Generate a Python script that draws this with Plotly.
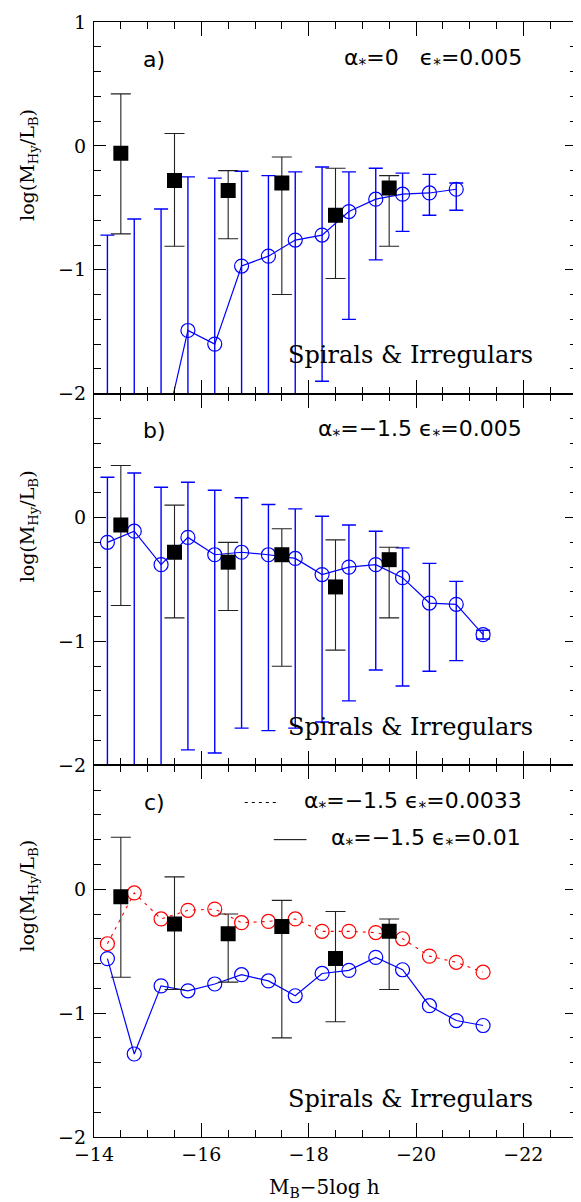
import plotly.graph_objects as go
from plotly.subplots import make_subplots

# ---------------- data ----------------
x_obs = [-14.5, -15.5, -16.5, -17.5, -18.5, -19.5]
y_obs = [-0.06, -0.28, -0.36, -0.30, -0.56, -0.34]
obs_hi = [0.42, 0.10, -0.20, -0.09, -0.18, -0.24]
obs_lo = [-0.71, -0.81, -0.75, -1.20, -1.07, -0.81]

x_mod = [-14.25, -14.75, -15.25, -15.75, -16.25, -16.75, -17.25, -17.75,
         -18.25, -18.75, -19.25, -19.75, -20.25, -20.75, -21.25]

# panel a (alpha=0, eps=0.005)
x_a = x_mod[:14]
y_a = [-2.7, -2.6, -2.44, -1.49, -1.60, -0.97, -0.89, -0.76, -0.72, -0.53, -0.43, -0.39, -0.38, -0.35]
a_hi = [-0.72, -0.59, -0.51, -0.25, -0.26, -0.205, -0.24, -0.21, -0.17, -0.21, -0.18, -0.22, -0.23, -0.30]
a_lo = [-3.5, -3.5, -3.5, -3.0, -3.0, -2.5, -2.5, -2.5, -1.90, -1.40, -0.92, -0.69, -0.56, -0.52]

# panel b (alpha=-1.5, eps=0.005)
y_b = [-0.20, -0.11, -0.38, -0.16, -0.30, -0.28, -0.30, -0.33, -0.46, -0.40, -0.38, -0.485, -0.69, -0.70, -0.945]
b_hi = [0.325, 0.36, 0.245, 0.285, 0.22, 0.16, 0.105, 0.07, 0.01, -0.06, -0.11, -0.245, -0.37, -0.515, -0.91]
b_lo = [-2.5, -2.5, -2.5, -1.875, -1.90, -1.70, -1.72, -1.70, -1.65, -1.48, -1.23, -1.36, -1.24, -1.155, -0.98]

# panel c
y_c_red = [-0.44, -0.03, -0.24, -0.17, -0.16, -0.27, -0.26, -0.24, -0.34, -0.34, -0.35, -0.40, -0.54, -0.59, -0.67]
y_c_blue = [-0.56, -1.33, -0.78, -0.82, -0.765, -0.69, -0.74, -0.86, -0.68, -0.655, -0.55, -0.65, -0.94, -1.06, -1.10]

y_ticks = [-2, -1, 0, 1]
x_ticks = [-14, -16, -18, -20, -22]

BLUE = "#0000ff"
RED = "#ff0000"


def errs(y, hi, lo):
    return [h - v for v, h in zip(y, hi)], [v - l for v, l in zip(y, lo)]


fig = make_subplots(rows=3, cols=1, shared_xaxes=True, vertical_spacing=0)

obs_up, obs_dn = errs(y_obs, obs_hi, obs_lo)


def add_obs(row):
    fig.add_trace(go.Scatter(
        x=x_obs, y=y_obs, mode="markers",
        marker=dict(symbol="square", size=15, color="black"),
        error_y=dict(type="data", symmetric=False, array=obs_up, arrayminus=obs_dn,
                     color="#222222", thickness=1.1, width=10),
        showlegend=False), row=row, col=1)


# panel a
up, dn = errs(y_a, a_hi, a_lo)
fig.add_trace(go.Scatter(
    x=x_a, y=y_a, mode="lines+markers",
    line=dict(color=BLUE, width=1.2),
    marker=dict(symbol="circle-open", size=14, color=BLUE, line=dict(width=1.2)),
    error_y=dict(type="data", symmetric=False, array=up, arrayminus=dn,
                 color=BLUE, thickness=1.4, width=7),
    showlegend=False), row=1, col=1)
add_obs(1)

# panel b
up, dn = errs(y_b, b_hi, b_lo)
fig.add_trace(go.Scatter(
    x=x_mod, y=y_b, mode="lines+markers",
    line=dict(color=BLUE, width=1.2),
    marker=dict(symbol="circle-open", size=14, color=BLUE, line=dict(width=1.2)),
    error_y=dict(type="data", symmetric=False, array=up, arrayminus=dn,
                 color=BLUE, thickness=1.4, width=7),
    showlegend=False), row=2, col=1)
add_obs(2)

# panel c
fig.add_trace(go.Scatter(
    x=x_mod, y=y_c_red, mode="lines+markers",
    line=dict(color=RED, width=1.1, dash="3px,5px"),
    marker=dict(symbol="circle-open", size=14, color=RED, line=dict(width=1.2)),
    showlegend=False), row=3, col=1)
fig.add_trace(go.Scatter(
    x=x_mod, y=y_c_blue, mode="lines+markers",
    line=dict(color=BLUE, width=1.2),
    marker=dict(symbol="circle-open", size=14, color=BLUE, line=dict(width=1.2)),
    showlegend=False), row=3, col=1)
add_obs(3)

tickfont = dict(family="DejaVu Serif", size=19, color="black")

for r in (1, 2, 3):
    fig.update_xaxes(
        range=[-14, -23], tickvals=x_ticks, ticks="inside", ticklen=14, tickwidth=1.2,
        tickcolor="black", showline=True, linecolor="black", linewidth=1.2,
        mirror="ticks", showgrid=False, zeroline=False, tickfont=tickfont,
        minor=dict(dtick=0.5, tick0=-14, ticks="inside", ticklen=7, tickwidth=1.1,
                   tickcolor="black", showgrid=False),
        row=r, col=1)
    ttext = ["\u22122", "\u22121", "0", "1"] if r == 1 else ["\u22122", "\u22121", "0", " "]
    fig.update_yaxes(
        range=[-2, 1], tickvals=y_ticks, ticktext=ttext, ticks="inside", ticklen=12,
        tickwidth=1.2, tickcolor="black", showline=True, linecolor="black", linewidth=1.2,
        mirror="ticks", showgrid=False, zeroline=False, tickfont=tickfont,
        ticklabelstandoff=3,
        minor=dict(dtick=0.2, tick0=0, ticks="inside", ticklen=7, tickwidth=1.1,
                   tickcolor="black", showgrid=False),
        row=r, col=1)

fig.update_xaxes(showticklabels=True, row=3, col=1)

sans = dict(family="DejaVu Sans", size=22, color="black")
serif = dict(family="DejaVu Serif", size=24, color="black")

ann = []
axes = [("x", "y"), ("x2", "y2"), ("x3", "y3")]
labels = ["a)", "b)", "c)"]
params = ["\u03b1<sub>*</sub>=0   \u03f5<sub>*</sub>=0.005",
          "\u03b1<sub>*</sub>=\u22121.5 \u03f5<sub>*</sub>=0.005",
          "\u03b1<sub>*</sub>=\u22121.5 \u03f5<sub>*</sub>=0.0033"]
for i, (xr, yr) in enumerate(axes):
    ann.append(dict(x=-15.12, y=0.70, xref=xr, yref=yr, text=labels[i], showarrow=False,
                    font=sans, xanchor="center", yanchor="middle"))
    ann.append(dict(x=-22.02, y=0.70, xref=xr, yref=yr, text=params[i], showarrow=False,
                    font=sans, xanchor="right", yanchor="middle"))
    ann.append(dict(x=-19.9, y=-1.69, xref=xr, yref=yr, text="Spirals &amp; Irregulars",
                    showarrow=False, font=serif, xanchor="center", yanchor="middle"))
ann.append(dict(x=-22.0, y=0.40, xref="x3", yref="y3",
                text="\u03b1<sub>*</sub>=\u22121.5 \u03f5<sub>*</sub>=0.01", showarrow=False,
                font=sans, xanchor="right", yanchor="middle"))

# y titles
ytitle = "log(M<sub>Hy</sub>/L<sub>B</sub>)"
for yc in (155, 520, 893):
    ann.append(dict(x=-0.136, y=1 - (yc - 11) / 1126, xref="paper", yref="paper",
                    text=ytitle, textangle=-90, showarrow=False,
                    font=dict(family="DejaVu Serif", size=19, color="black"),
                    xanchor="center", yanchor="middle"))
ann.append(dict(x=(325 - 94) / 484, y=-(1189 - 1137) / 1126, xref="paper", yref="paper",
                text="M<sub>B</sub>\u22125log h", showarrow=False,
                font=dict(family="DejaVu Serif", size=20, color="black"),
                xanchor="center", yanchor="middle"))

shapes = [
    dict(type="line", xref="x3", yref="y3", x0=-16.81, x1=-17.42, y0=0.70, y1=0.70,
         line=dict(color="black", width=1, dash="3px,4px")),
    dict(type="line", xref="x3", yref="y3", x0=-17.35, x1=-17.96, y0=0.40, y1=0.40,
         line=dict(color="black", width=1)),
]

# the page body adds an 8px offset; margins compensate so the plot area sits at
# x 94..578, y 11..1137 in the window
fig.update_layout(
    width=573, height=1194,
    margin=dict(l=86, r=3, t=3, b=65),
    paper_bgcolor="white", plot_bgcolor="white",
    annotations=ann, shapes=shapes, showlegend=False,
)

fig.write_html("out.html")
